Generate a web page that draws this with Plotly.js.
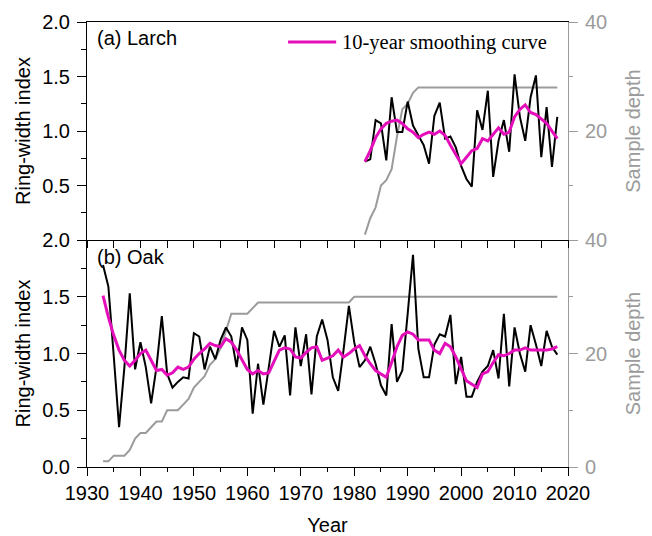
<!DOCTYPE html>
<html>
<head>
<meta charset="utf-8">
<script src="https://cdn.plot.ly/plotly-3.0.1.min.js"></script>
<style>
  html, body { margin: 0; padding: 0; background: #fff; }
  #chart { width: 652px; height: 536px; }
</style>
</head>
<body>
<div id="chart"></div>
<script>
// (a) Larch chronology, 1982-2018
const larchYears = [1982,1983,1984,1985,1986,1987,1988,1989,1990,1991,1992,1993,1994,1995,1996,1997,1998,1999,2000,2001,2002,2003,2004,2005,2006,2007,2008,2009,2010,2011,2012,2013,2014,2015,2016,2017,2018];
const larchRwi = [0.72,0.74,1.10,1.07,0.73,1.31,0.99,0.99,1.27,1.05,0.96,0.87,0.70,1.14,1.26,0.93,0.95,0.85,0.68,0.56,0.49,1.19,1.01,1.37,0.58,0.91,1.10,0.81,1.52,1.13,0.91,1.31,1.51,0.76,1.22,0.67,1.13];
const larchSmooth = [0.72,0.82,0.94,1.02,1.07,1.09,1.10,1.07,1.02,0.99,0.94,0.97,0.99,0.97,1.00,0.96,0.87,0.78,0.70,0.76,0.82,0.84,0.93,0.91,0.97,1.03,0.97,0.99,1.13,1.20,1.24,1.17,1.15,1.11,1.07,1.00,0.93];
const larchDepth = [1,4,6,10,11,13,19,24,25,27,28,28,28,28,28,28,28,28,28,28,28,28,28,28,28,28,28,28,28,28,28,28,28,28,28,28,28];

// (b) Oak chronology, 1933-2018
const oakYears = [1933,1934,1935,1936,1937,1938,1939,1940,1941,1942,1943,1944,1945,1946,1947,1948,1949,1950,1951,1952,1953,1954,1955,1956,1957,1958,1959,1960,1961,1962,1963,1964,1965,1966,1967,1968,1969,1970,1971,1972,1973,1974,1975,1976,1977,1978,1979,1980,1981,1982,1983,1984,1985,1986,1987,1988,1989,1990,1991,1992,1993,1994,1995,1996,1997,1998,1999,2000,2001,2002,2003,2004,2005,2006,2007,2008,2009,2010,2011,2012,2013,2014,2015,2016,2017,2018];
const oakRwi = [1.78,1.59,0.98,0.35,0.88,1.53,0.86,1.10,0.88,0.56,0.88,1.33,0.82,0.70,0.75,0.79,0.78,1.18,1.15,0.86,1.06,0.95,1.12,1.23,1.15,0.88,1.23,1.12,0.47,0.91,0.55,0.88,1.20,1.06,1.16,0.63,1.23,0.89,1.17,0.64,1.15,1.30,1.12,0.79,0.67,1.03,1.42,1.10,0.88,0.94,1.06,0.91,0.72,0.63,1.26,0.75,0.85,1.35,1.87,1.04,0.79,0.79,1.08,1.17,1.15,1.34,0.73,0.97,0.62,0.62,0.75,0.84,0.89,1.03,0.78,1.35,0.71,1.23,1.00,0.84,1.25,1.08,0.89,1.20,1.06,0.99];
const oakSmooth = [1.51,1.32,1.16,1.03,0.94,0.89,0.94,1.00,1.03,0.94,0.85,0.86,0.81,0.83,0.88,0.86,0.88,0.95,1.00,1.04,1.09,1.07,1.06,1.13,1.10,1.03,0.95,0.86,0.82,0.85,0.82,0.83,0.93,1.03,1.05,1.04,0.97,0.96,1.01,1.05,1.06,0.94,0.96,0.98,1.03,0.97,1.00,1.04,1.07,0.98,0.91,0.85,0.82,0.79,0.92,1.06,1.16,1.19,1.17,1.12,1.12,1.12,1.03,1.00,1.09,1.06,0.97,0.86,0.76,0.73,0.70,0.82,0.84,0.92,0.99,0.98,1.00,1.03,1.03,1.05,1.03,1.03,1.03,1.03,1.04,1.06];
const oakDepth = [1,1,2,2,2,3,5,6,6,7,8,8,10,10,10,11,12,14,15,16,18,19,21,24,27,27,27,27,28,29,29,29,29,29,29,29,29,29,29,29,29,29,29,29,29,29,29,30,30,30,30,30,30,30,30,30,30,30,30,30,30,30,30,30,30,30,30,30,30,30,30,30,30,30,30,30,30,30,30,30,30,30,30,30,30,30];

const decadeTicks = [1930,1940,1950,1960,1970,1980,1990,2000,2010,2020];
const smoothLabel = '10-year smoothing curve';

const INK = '#000000';
const GREY = '#9b9b9b';
const MAGENTA = '#e40fba';
const SANS = 'Liberation Sans, Arial, sans-serif';
const SERIF = 'Liberation Serif, Times New Roman, serif';

const traces = [
  // panel (b): sample depth first so the chronology sits above it
  { x: oakYears, y: oakDepth, xaxis: 'x', yaxis: 'y', type: 'scatter', mode: 'lines',
    line: { color: GREY, width: 2 }, showlegend: false, hoverinfo: 'skip' },
  { x: oakYears, y: oakRwi, xaxis: 'x', yaxis: 'y2', type: 'scatter', mode: 'lines',
    line: { color: INK, width: 2 }, showlegend: false },
  { x: oakYears, y: oakSmooth, xaxis: 'x', yaxis: 'y2', type: 'scatter', mode: 'lines',
    line: { color: MAGENTA, width: 3 }, showlegend: false },
  // panel (a)
  { x: larchYears, y: larchDepth, xaxis: 'x2', yaxis: 'y3', type: 'scatter', mode: 'lines',
    line: { color: GREY, width: 2 }, showlegend: false, hoverinfo: 'skip' },
  { x: larchYears, y: larchRwi, xaxis: 'x2', yaxis: 'y4', type: 'scatter', mode: 'lines',
    line: { color: INK, width: 2 }, showlegend: false },
  { x: larchYears, y: larchSmooth, xaxis: 'x2', yaxis: 'y4', type: 'scatter', mode: 'lines',
    line: { color: MAGENTA, width: 3 }, name: smoothLabel, showlegend: false }
];

const split = 0.51;
const tickFont = { family: SANS, size: 20, color: INK };
const greyFont = { family: SANS, size: 20, color: GREY };
const titleFont = { family: SANS, size: 20, color: INK };
const greyTitle = { family: SANS, size: 20, color: GREY };

const leftAxis = {
  side: 'left', range: [0, 2], tickformat: '.1f',
  ticks: 'outside', ticklen: 9, tickcolor: INK, ticklabelstandoff: 3,
  minor: { tickvals: [0.25, 0.75, 1.25, 1.75], ticks: 'outside', ticklen: 5, tickcolor: INK },
  showline: true, linecolor: INK, linewidth: 1, showgrid: false, zeroline: false,
  tickfont: tickFont,
  title: { text: 'Ring-width index', font: titleFont, standoff: 6 }
};
const rightAxis = {
  side: 'right', range: [0, 40],
  ticks: 'outside', ticklen: 9, tickcolor: GREY, ticklabelstandoff: 3,
  minor: { tickvals: [10, 30], ticks: 'outside', ticklen: 4, tickcolor: GREY },
  showline: true, linecolor: GREY, linewidth: 1, showgrid: false, zeroline: false,
  tickfont: greyFont,
  title: { text: 'Sample depth', font: greyTitle, standoff: 19 }
};

const layout = {
  width: 652, height: 536,
  margin: { l: 87, r: 84, t: 22, b: 69 },
  paper_bgcolor: '#ffffff', plot_bgcolor: '#ffffff',
  showlegend: false,
  xaxis: {
    domain: [0, 1], anchor: 'y', range: [1930, 2020],
    tickvals: decadeTicks, ticktext: decadeTicks.map(String),
    ticks: 'outside', ticklen: 8, tickcolor: INK, tickwidth: 1,
    minor: { dtick: 5, tick0: 1930, ticks: 'outside', ticklen: 4, tickcolor: INK },
    showline: true, linecolor: INK, linewidth: 1, showgrid: false, zeroline: false,
    tickfont: tickFont,
    title: { text: 'Year', font: titleFont, standoff: 16 }
  },
  xaxis2: {
    domain: [0, 1], anchor: 'y3', matches: 'x', range: [1930, 2020],
    tickvals: decadeTicks, showticklabels: false,
    ticks: 'outside', ticklen: 7, tickcolor: INK,
    minor: { dtick: 5, tick0: 1930, ticks: 'outside', ticklen: 7, tickcolor: INK },
    showline: true, mirror: true, linecolor: INK, linewidth: 1, showgrid: false, zeroline: false
  },
  // panel (b) sample depth (right)
  yaxis: Object.assign({}, rightAxis, { domain: [0, split], anchor: 'x', tickvals: [0, 20, 40] }),
  // panel (b) ring-width index (left)
  yaxis2: Object.assign({}, leftAxis, { overlaying: 'y', anchor: 'x', tickvals: [0, 0.5, 1, 1.5, 2] }),
  // panel (a) sample depth (right)
  yaxis3: Object.assign({}, rightAxis, { domain: [split, 1], anchor: 'x2', tickvals: [20, 40] }),
  // panel (a) ring-width index (left)
  yaxis4: Object.assign({}, leftAxis, { overlaying: 'y3', anchor: 'x2', tickvals: [0.5, 1, 1.5, 2] }),
  shapes: [
    // legend key for the smoothing curve
    { type: 'line', xref: 'paper', yref: 'paper', x0: 0.418, x1: 0.518, y0: 0.955, y1: 0.955,
      line: { color: MAGENTA, width: 3 } }
  ],
  annotations: [
    { text: smoothLabel, xref: 'paper', yref: 'paper', x: 0.526, y: 0.955,
      xanchor: 'left', yanchor: 'middle', showarrow: false,
      font: { family: SERIF, size: 20.5, color: INK } },
    { text: '(a) Larch', xref: 'paper', yref: 'paper', x: 0.017, y: 0.964,
      xanchor: 'left', yanchor: 'middle', showarrow: false,
      font: { family: SANS, size: 20, color: INK } },
    { text: '(b) Oak', xref: 'paper', yref: 'paper', x: 0.017, y: 0.4726,
      xanchor: 'left', yanchor: 'middle', showarrow: false,
      font: { family: SANS, size: 20, color: INK } }
  ]
};

Plotly.newPlot('chart', traces, layout, { displayModeBar: false, staticPlot: true });
</script>
</body>
</html>
